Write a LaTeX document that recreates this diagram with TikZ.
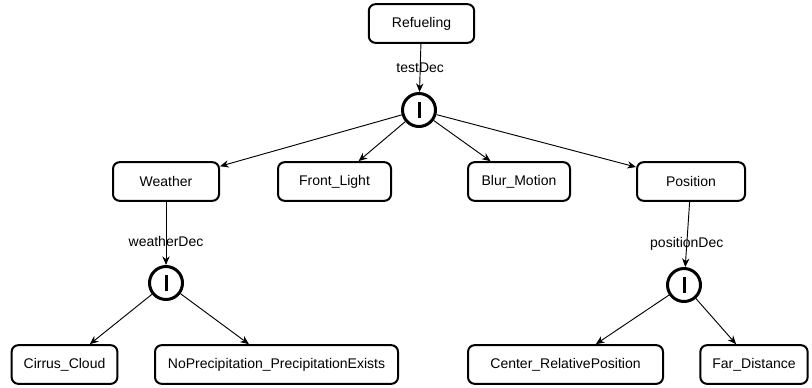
\documentclass[tikz,border=0pt]{standalone}
\usepackage{fontspec}
\setmainfont{Liberation Sans}
\usetikzlibrary{arrows.meta}

\tikzset{
  txt/.style={font=\fontsize{10.5pt}{12pt}\selectfont},
  featbox/.style={txt, draw, line width=1.5pt, rounded corners=5pt, minimum height=29pt, minimum width=79pt, inner xsep=9pt},
  decop/.style={draw, circle, line width=2.25pt, minimum size=24.75pt, inner sep=0pt},
  link/.style={-{Stealth[length=6.5pt,width=5.5pt]}, line width=0.7pt},
  declabel/.style={txt, inner sep=1pt}
}

\begin{document}
\begin{tikzpicture}[x=0.75pt, y=-0.75pt]
                \useasboundingbox (0,0) rectangle (812,387);
                % top level
                \node[featbox] (refuel) at (421.5,23.5) {Refueling};
                \node[decop] (testop) at (419,110) {\rule[-6pt]{2.25pt}{12pt}};
                \node[featbox, minimum width=79.5pt] (weather) at (166,181.5) {Weather};
                \node[featbox, minimum width=84.75pt] (frontlight) at (334.5,181.5) {Front\_Light};
                \node[featbox, minimum width=76.5pt] (blur) at (519,181.5) {Blur\_Motion};
                \node[featbox, minimum width=81pt] (position) at (691,181.5) {Position};
                % second level
                \node[decop] (weatherop) at (166,283) {\rule[-6pt]{2.25pt}{12pt}};
                \node[decop] (positionop) at (684,285) {\rule[-6pt]{2.25pt}{12pt}};
                \node[featbox, minimum width=78.75pt] (cirrus) at (64.5,364.5) {Cirrus\_Cloud};
                \node[featbox, minimum width=182.25pt] (noprecip) at (276.5,364.5) {NoPrecipitation\_PrecipitationExists};
                \node[featbox, minimum width=146.25pt] (centerrel) at (565.5,364.5) {Center\_RelativePosition};
                \node[featbox, minimum width=73.5pt] (fardist) at (754,364.5) {Far\_Distance};
                % connectors
                \draw[link] (refuel) -- node[declabel, pos=0.5] {testDec} (testop);
                \draw[link] (testop) -- (weather);
                \draw[link] (testop) -- (frontlight);
                \draw[link] (testop) -- (blur);
                \draw[link] (testop) -- (position);
                \draw[link] (weather) -- node[declabel, pos=0.62] {weatherDec} (weatherop);
                \draw[link] (position) -- node[declabel, pos=0.65] {positionDec} (positionop);
                \draw[link] (weatherop) -- (cirrus);
                \draw[link] (weatherop) -- (noprecip);
                \draw[link] (positionop) -- (centerrel);
                \draw[link] (positionop) -- (fardist);
                \end{tikzpicture}
\end{document}
